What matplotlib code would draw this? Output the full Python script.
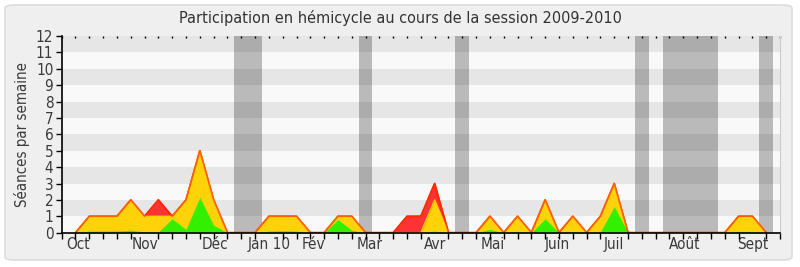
import matplotlib
matplotlib.use("Agg")
import matplotlib.pyplot as plt
from matplotlib.patches import FancyBboxPatch
import numpy as np

# semaines de la session (index de semaine)
semaines = list(range(51))

# séances de présence (rouge)
presence = [0, 1, 1, 1, 2, 1, 2, 1, 2, 5, 2, 0, 0, 0, 1, 1, 1, 0, 0, 1,
            1, 0, 0, 0, 1, 1, 3, 0, 0, 0, 1, 0, 1, 0, 2, 0, 1, 0, 1, 3,
            0, 0, 0, 0, 0, 0, 0, 0, 1, 1, 0]
# participation (jaune)
participation = [0, 1, 1, 1, 2, 1, 1, 1, 2, 5, 2, 0, 0, 0, 1, 1, 1, 0, 0, 1,
                 1, 0, 0, 0, 0, 0, 2, 0, 0, 0, 1, 0, 1, 0, 2, 0, 1, 0, 1, 3,
                 0, 0, 0, 0, 0, 0, 0, 0, 1, 1, 0]
# interventions (vert)
interventions = [0, 0.1, 0.1, 0.1, 0.15, 0.05, 0.05, 0.85, 0.2, 2.15, 0.45, 0,
                 0, 0, 0.1, 0.12, 0.1, 0, 0, 0.8, 0.15, 0, 0, 0, 0, 0, 0.1, 0,
                 0, 0, 0.2, 0, 0.08, 0, 0.85, 0, 0.08, 0, 0.05, 1.6, 0, 0, 0,
                 0, 0, 0, 0, 0, 0.08, 0.08, 0]

# semaines de vacances parlementaires
vacances = [12, 13, 21, 28, 41, 43, 44, 45, 46, 50]

mois = ["Oct", "Nov", "Déc", "Jan 10", "Fév", "Mar", "Avr", "Mai", "Juin",
        "Juil", "Août", "Sept"]
mois_pos = [0.2, 5, 10.1, 14, 17.2, 21.3, 26, 30.2, 34.9, 39, 44.1, 49]

plt.rcParams['font.family'] = ['DejaVu Sans']
plt.rcParams['font.stretch'] = 'condensed'

fig = plt.figure(figsize=(8, 2.67), dpi=100)
fig.patch.set_facecolor('white')
fig.patches.append(FancyBboxPatch((5 / 800, 7 / 267), 787 / 800, 255 / 267,
                                  boxstyle="round,pad=0,rounding_size=0.012",
                                  transform=fig.transFigure, facecolor='#efefef',
                                  edgecolor='#dcdcdc', linewidth=1.2, zorder=-10))

ax = fig.add_axes([0.0771, 0.1285, 0.8979, 0.7367])
ax.set_facecolor('#f9f9f9')

# bandes horizontales
for k in range(1, 12, 2):
    ax.axhspan(k, k + 1, color='#e6e6e6', lw=0, zorder=0)

# bandes de vacances (regroupées)
debut = vacances[0]
prec = vacances[0]
for w in vacances[1:] + [None]:
    if w is None or w != prec + 1:
        ax.axvspan(debut - 0.5, prec + 0.5, color='black', alpha=0.25, lw=0, zorder=0.5)
        if w is not None:
            debut = w
    if w is not None:
        prec = w

x = np.array(semaines)
ax.fill_between(x, presence, color='#ff3333', lw=0, zorder=1)
ax.plot(x, presence, color='#ff1a00', lw=1.3, zorder=1.1)
ax.fill_between(x, participation, color='#ffd20a', lw=0, zorder=1.2)
ax.plot(x, participation, color='#ffcc00', lw=1.0, zorder=1.3)
ax.fill_between(x, interventions, color='#33f000', lw=0, zorder=1.4)
ax.plot(x, presence, color='#ff3300', lw=1.1, alpha=0.7, zorder=1.5)

ax.set_xlim(-1, 51)
ax.set_ylim(0, 12)
ax.set_yticks(range(13))
ax.set_xticks(range(-1, 52), minor=True)
ax.set_xticks(mois_pos)
ax.set_xticklabels(mois)
ax.tick_params(axis='x', which='major', length=0, pad=3, labelsize=11, labelcolor='#3a3a3a')
ax.tick_params(axis='x', which='minor', length=4, width=1, color='black')
ax.tick_params(axis='y', length=4, width=1, color='black', pad=2, labelsize=11,
               labelcolor='#3a3a3a')

for s in ['left', 'bottom']:
    ax.spines[s].set_color('black')
    ax.spines[s].set_linewidth(1.2)
    ax.spines[s].set_zorder(3)
ax.spines['top'].set_visible(False)
ax.spines['right'].set_color('#cccccc')

top = ax.secondary_xaxis('top')
top.set_xticks(range(-1, 52))
top.tick_params(direction='in', length=1.5, width=1, color='black', labeltop=False)
top.spines['top'].set_visible(False)

fig.suptitle("Participation en hémicycle au cours de la session 2009-2010",
             x=0.5, y=0.933, va='center', fontsize=11.6, color='#333333')
ax.set_ylabel("Séances par semaine", fontsize=10.8, color='#3a3a3a', labelpad=4)

fig.savefig('out.png', dpi=100, facecolor=fig.get_facecolor())
